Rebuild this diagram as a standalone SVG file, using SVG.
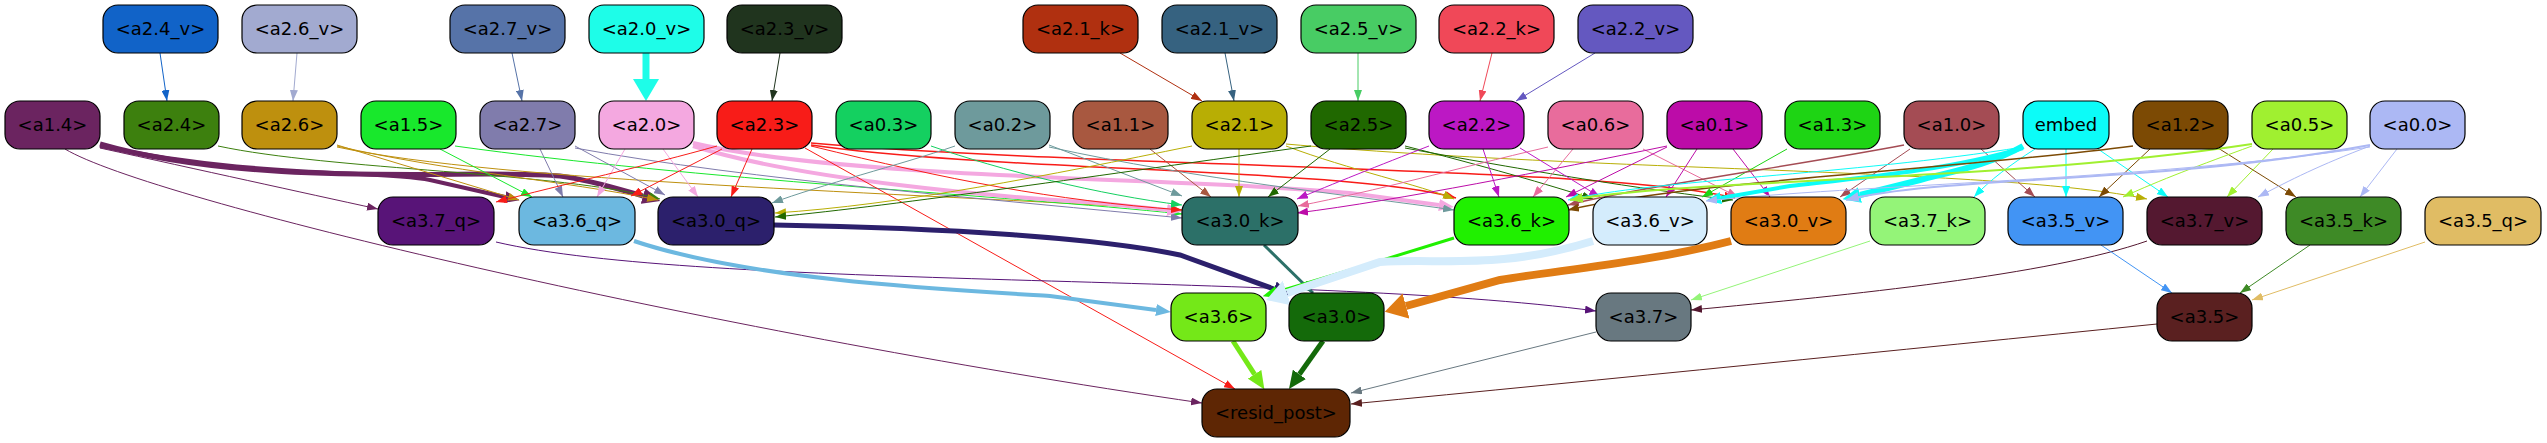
<svg xmlns="http://www.w3.org/2000/svg" width="2547" height="443" viewBox="0 0 2547 443">
<style>
.n rect{stroke:#000;stroke-width:1.2}
.n text{font-family:"DejaVu Sans","Liberation Sans",sans-serif;font-size:18px;text-anchor:middle;fill:#000}
#edges path{fill:none}
.t1{stroke-width:1;marker-end:url(#m1)}
.t2{stroke-width:2;marker-end:url(#m2)}
.t4{stroke-width:4;marker-end:url(#m3)}
.t5{stroke-width:5;marker-end:url(#m5)}
.t8{stroke-width:8;marker-end:url(#m8)}
</style>
<defs>
<marker id="m1" viewBox="0 0 11 8" refX="11" refY="4" markerWidth="11" markerHeight="8" markerUnits="userSpaceOnUse" orient="auto"><path d="M0,0 L11,4 L0,8 Z" fill="context-stroke" stroke="none"/></marker>
<marker id="m2" viewBox="0 0 13 10" refX="13" refY="5" markerWidth="13" markerHeight="10" markerUnits="userSpaceOnUse" orient="auto"><path d="M0,0 L13,5 L0,10 Z" fill="context-stroke" stroke="none"/></marker>
<marker id="m3" viewBox="0 0 15 12" refX="0" refY="6" markerWidth="15" markerHeight="12" markerUnits="userSpaceOnUse" orient="auto"><path d="M0,0 L15,6 L0,12 Z" fill="context-stroke" stroke="none"/></marker>
<marker id="m5" viewBox="0 0 18 16" refX="0" refY="8" markerWidth="18" markerHeight="16" markerUnits="userSpaceOnUse" orient="auto"><path d="M0,0 L18,8 L0,16 Z" fill="context-stroke" stroke="none"/></marker>
<marker id="m8" viewBox="0 0 22 26" refX="0" refY="13" markerWidth="22" markerHeight="26" markerUnits="userSpaceOnUse" orient="auto"><path d="M0,0 L22,13 L0,26 Z" fill="context-stroke" stroke="none"/></marker>
</defs>
<rect width="2547" height="443" fill="#fff"/>
<g id="edges">
<path class="t1" stroke="#1163c8" d="M160,53 L167,101"/>
<path class="t1" stroke="#a2aad0" d="M297,53 L293,101"/>
<path class="t1" stroke="#5673a8" d="M512,53 L522,101"/>
<path class="t8" stroke="#1efde8" style="stroke-width:7" d="M646,53 L646,79"/>
<path class="t1" stroke="#20341e" d="M780,53 L772,101"/>
<path class="t1" stroke="#b03010" d="M1120,53 L1202,101"/>
<path class="t1" stroke="#366280" d="M1225,53 L1234,101"/>
<path class="t1" stroke="#48cc64" d="M1358,53 L1358,101"/>
<path class="t1" stroke="#f04858" d="M1492,53 L1480,101"/>
<path class="t1" stroke="#6458c0" d="M1595,53 L1516,101"/>

<path class="t1" stroke="#6b2460" d="M100,148 C200,170 300,192 378,209"/>
<path class="t4" stroke="#6b2460" d="M100,146 C250,178 380,170 430,180 L505,197"/>
<path class="t5" stroke="#6b2460" d="M100,144 C260,190 480,168 560,176 C590,180 615,188 643,196"/>
<path class="t1" stroke="#6b2460" d="M65,149 C150,200 700,330 1202,403"/>
<path class="t1" stroke="#3d800e" d="M218,146 C330,170 560,172 660,199"/>
<path class="t1" stroke="#be900e" d="M337,145 L519,200"/>
<path class="t1" stroke="#be900e" d="M337,146 C450,172 560,180 658,200"/>
<path class="t1" stroke="#be900e" d="M337,147 C500,182 900,192 1182,210"/>
<path class="t1" stroke="#18e82c" d="M440,149 L532,197"/>
<path class="t1" stroke="#18e82c" d="M455,146 C700,180 1000,195 1182,214"/>
<path class="t1" stroke="#807cac" d="M540,149 L563,197"/>
<path class="t1" stroke="#807cac" d="M575,146 L665,195"/>
<path class="t1" stroke="#807cac" d="M575,148 C750,180 1000,200 1182,218"/>
<path class="t1" stroke="#f4a8e0" d="M625,149 L597,197"/>
<path class="t1" stroke="#f4a8e0" d="M663,149 L698,197"/>
<path class="t4" stroke="#f4a8e0" d="M693,146 C800,180 1000,197 1100,203 L1167,210"/>
<path class="t4" stroke="#f4a8e0" d="M693,143 C850,180 1200,178 1350,193 L1439,205"/>
<path class="t1" stroke="#f81c18" d="M717,146 C650,165 560,185 496,202"/>
<path class="t1" stroke="#f81c18" d="M722,149 L631,196"/>
<path class="t1" stroke="#f81c18" d="M752,149 L731,197"/>
<path class="t1" stroke="#f81c18" d="M805,148 L1235,389"/>
<path class="t1" stroke="#f81c18" d="M811,146 C950,180 1050,200 1182,210"/>
<path class="t1" stroke="#f81c18" style="stroke-width:1.5" d="M811,145 C1000,172 1350,168 1456,198"/>
<path class="t1" stroke="#f81c18" style="stroke-width:1.5" d="M811,143 C1100,168 1600,166 1735,198"/>
<path class="t1" stroke="#14d060" d="M931,146 C1000,170 1100,195 1182,205"/>
<path class="t1" stroke="#6e9a9c" d="M955,146 C900,165 820,185 772,203"/>
<path class="t1" stroke="#6e9a9c" d="M1049,145 L1182,196"/>
<path class="t1" stroke="#6e9a9c" d="M1049,147 C1200,180 1350,195 1454,210"/>
<path class="t1" stroke="#a85840" d="M1150,149 L1211,197"/>
<path class="t1" stroke="#b8ae04" d="M1192,146 C1050,175 900,205 775,213"/>
<path class="t1" stroke="#b8ae04" d="M1239,149 L1239,197"/>
<path class="t1" stroke="#b8ae04" d="M1286,146 C1350,170 1420,185 1454,199"/>
<path class="t1" stroke="#b8ae04" d="M1286,144 C1600,172 2000,168 2147,199"/>
<path class="t1" stroke="#206800" d="M1311,146 C1100,175 900,205 775,217"/>
<path class="t1" stroke="#206800" d="M1330,149 L1268,197"/>
<path class="t1" stroke="#206800" d="M1405,146 C1480,165 1550,185 1593,199"/>
<path class="t1" stroke="#206800" d="M1405,148 C1550,175 1650,190 1733,200"/>
<path class="t1" stroke="#bc18c4" d="M1429,146 C1380,165 1330,185 1297,199"/>
<path class="t1" stroke="#bc18c4" d="M1483,149 L1499,197"/>
<path class="t1" stroke="#bc18c4" d="M1520,148 L1600,197"/>
<path class="t1" stroke="#e86c9c" d="M1548,147 C1450,170 1380,190 1298,206"/>
<path class="t1" stroke="#e86c9c" d="M1573,149 L1533,197"/>
<path class="t1" stroke="#e86c9c" d="M1643,149 L1738,197"/>
<path class="t1" stroke="#bc0ca8" d="M1667,146 C1550,170 1400,200 1297,213"/>
<path class="t1" stroke="#bc0ca8" d="M1667,147 L1566,197"/>
<path class="t1" stroke="#bc0ca8" d="M1697,149 L1666,197"/>
<path class="t1" stroke="#bc0ca8" d="M1733,149 L1770,197"/>
<path class="t1" stroke="#1ed414" d="M1787,149 L1702,197"/>
<path class="t1" stroke="#a44c54" d="M1910,149 L1840,197"/>
<path class="t1" stroke="#a44c54" d="M1981,149 L2035,197"/>
<path class="t1" stroke="#a44c54" style="stroke-width:1.5" d="M1904,145 C1800,165 1650,185 1568,205"/>
<path class="t5" stroke="#0cfcf8" style="stroke-width:6" d="M2023,146 C1990,165 1950,172 1920,180 L1860,195"/>
<path class="t4" stroke="#0cfcf8" d="M2023,148 C1950,170 1860,178 1790,186 L1721,198"/>
<path class="t1" stroke="#0cfcf8" d="M2023,147 C1850,175 1650,180 1568,200"/>
<path class="t1" stroke="#0cfcf8" d="M2035,149 C2010,165 1990,180 1974,197"/>
<path class="t1" stroke="#0cfcf8" d="M2066,149 L2066,197"/>
<path class="t1" stroke="#0cfcf8" d="M2098,149 L2168,197"/>
<path class="t1" stroke="#7c4a04" d="M2150,149 L2099,197"/>
<path class="t1" stroke="#7c4a04" d="M2218,148 L2296,197"/>
<path class="t1" stroke="#7c4a04" style="stroke-width:1.5" d="M2133,146 C1950,170 1700,180 1568,210"/>
<path class="t1" stroke="#a0f030" d="M2273,149 L2227,197"/>
<path class="t1" stroke="#a0f030" d="M2252,146 C2200,165 2160,180 2123,197"/>
<path class="t2" stroke="#a0f030" d="M2252,144 C2000,182 1700,178 1570,200"/>
<path class="t1" stroke="#acb8f4" d="M2397,149 L2360,197"/>
<path class="t1" stroke="#acb8f4" d="M2370,146 C2320,165 2290,180 2258,197"/>
<path class="t2" stroke="#acb8f4" d="M2370,145 C2150,185 1950,175 1846,200"/>
<path class="t1" stroke="#acb8f4" d="M2370,147 C2150,180 1850,185 1706,201"/>

<path class="t1" stroke="#581478" d="M496,242 C700,290 1300,272 1596,311"/>
<path class="t4" stroke="#6cb8e0" d="M634,241 C750,280 950,290 1050,296 L1156,310"/>
<path class="t5" stroke="#2c206c" d="M774,225 C950,228 1100,238 1180,255 L1274,289"/>
<path class="t2" stroke="#2c7068" style="stroke-width:3" d="M1264,245 L1313,293"/>
<path class="t4" stroke="#20f000" style="stroke-width:3" d="M1454,238 C1400,255 1330,276 1277,292"/>
<path class="t8" stroke="#d4ecfc" d="M1593,241 C1500,270 1440,258 1380,262 L1287,293"/>
<path class="t8" stroke="#e07c14" d="M1731,241 C1650,262 1560,270 1500,280 L1406,306"/>
<path class="t1" stroke="#94f478" d="M1870,241 L1691,300"/>
<path class="t1" stroke="#541830" d="M2147,241 C2050,275 1850,295 1691,310"/>
<path class="t1" stroke="#4294f4" d="M2101,245 L2172,293"/>
<path class="t1" stroke="#3e8a26" d="M2310,245 L2240,293"/>
<path class="t1" stroke="#e0bc64" d="M2425,242 L2252,300"/>

<path class="t5" stroke="#74e818" d="M1233,341 L1254.6,374.3"/>
<path class="t5" stroke="#146a0a" d="M1323,341 L1299.4,374.3"/>
<path class="t1" stroke="#687880" d="M1596,332 L1351,393"/>
<path class="t1" stroke="#5a2020" d="M2157,324 C1900,350 1600,380 1351,404"/>
</g>

<g id="a2.4_v" class="n"><rect x="103" y="5" width="115" height="48" rx="15" fill="#1163c8"/><text x="160.5" y="35">&lt;a2.4_v&gt;</text></g>
<g id="a2.6_v" class="n"><rect x="242" y="5" width="115" height="48" rx="15" fill="#a2aad0"/><text x="299.5" y="35">&lt;a2.6_v&gt;</text></g>
<g id="a2.7_v" class="n"><rect x="450" y="5" width="115" height="48" rx="15" fill="#5673a8"/><text x="507.5" y="35">&lt;a2.7_v&gt;</text></g>
<g id="a2.0_v" class="n"><rect x="589" y="5" width="115" height="48" rx="15" fill="#1efde8"/><text x="646.5" y="35">&lt;a2.0_v&gt;</text></g>
<g id="a2.3_v" class="n"><rect x="727" y="5" width="115" height="48" rx="15" fill="#20341e"/><text x="784.5" y="35">&lt;a2.3_v&gt;</text></g>
<g id="a2.1_k" class="n"><rect x="1023" y="5" width="115" height="48" rx="15" fill="#b03010"/><text x="1080.5" y="35">&lt;a2.1_k&gt;</text></g>
<g id="a2.1_v" class="n"><rect x="1162" y="5" width="115" height="48" rx="15" fill="#366280"/><text x="1219.5" y="35">&lt;a2.1_v&gt;</text></g>
<g id="a2.5_v" class="n"><rect x="1301" y="5" width="115" height="48" rx="15" fill="#48cc64"/><text x="1358.5" y="35">&lt;a2.5_v&gt;</text></g>
<g id="a2.2_k" class="n"><rect x="1439" y="5" width="115" height="48" rx="15" fill="#f04858"/><text x="1496.5" y="35">&lt;a2.2_k&gt;</text></g>
<g id="a2.2_v" class="n"><rect x="1578" y="5" width="115" height="48" rx="15" fill="#6458c0"/><text x="1635.5" y="35">&lt;a2.2_v&gt;</text></g>

<g id="a1.4" class="n"><rect x="5" y="101" width="95" height="48" rx="15" fill="#6b2460"/><text x="52.5" y="131">&lt;a1.4&gt;</text></g>
<g id="a2.4" class="n"><rect x="124" y="101" width="95" height="48" rx="15" fill="#3d800e"/><text x="171.5" y="131">&lt;a2.4&gt;</text></g>
<g id="a2.6" class="n"><rect x="242" y="101" width="95" height="48" rx="15" fill="#be900e"/><text x="289.5" y="131">&lt;a2.6&gt;</text></g>
<g id="a1.5" class="n"><rect x="361" y="101" width="95" height="48" rx="15" fill="#18e82c"/><text x="408.5" y="131">&lt;a1.5&gt;</text></g>
<g id="a2.7" class="n"><rect x="480" y="101" width="95" height="48" rx="15" fill="#807cac"/><text x="527.5" y="131">&lt;a2.7&gt;</text></g>
<g id="a2.0" class="n"><rect x="599" y="101" width="95" height="48" rx="15" fill="#f4a8e0"/><text x="646.5" y="131">&lt;a2.0&gt;</text></g>
<g id="a2.3" class="n"><rect x="717" y="101" width="95" height="48" rx="15" fill="#f81c18"/><text x="764.5" y="131">&lt;a2.3&gt;</text></g>
<g id="a0.3" class="n"><rect x="836" y="101" width="95" height="48" rx="15" fill="#14d060"/><text x="883.5" y="131">&lt;a0.3&gt;</text></g>
<g id="a0.2" class="n"><rect x="955" y="101" width="95" height="48" rx="15" fill="#6e9a9c"/><text x="1002.5" y="131">&lt;a0.2&gt;</text></g>
<g id="a1.1" class="n"><rect x="1073" y="101" width="95" height="48" rx="15" fill="#a85840"/><text x="1120.5" y="131">&lt;a1.1&gt;</text></g>
<g id="a2.1" class="n"><rect x="1192" y="101" width="95" height="48" rx="15" fill="#b8ae04"/><text x="1239.5" y="131">&lt;a2.1&gt;</text></g>
<g id="a2.5" class="n"><rect x="1311" y="101" width="95" height="48" rx="15" fill="#206800"/><text x="1358.5" y="131">&lt;a2.5&gt;</text></g>
<g id="a2.2" class="n"><rect x="1429" y="101" width="95" height="48" rx="15" fill="#bc18c4"/><text x="1476.5" y="131">&lt;a2.2&gt;</text></g>
<g id="a0.6" class="n"><rect x="1548" y="101" width="95" height="48" rx="15" fill="#e86c9c"/><text x="1595.5" y="131">&lt;a0.6&gt;</text></g>
<g id="a0.1" class="n"><rect x="1667" y="101" width="95" height="48" rx="15" fill="#bc0ca8"/><text x="1714.5" y="131">&lt;a0.1&gt;</text></g>
<g id="a1.3" class="n"><rect x="1785" y="101" width="95" height="48" rx="15" fill="#1ed414"/><text x="1832.5" y="131">&lt;a1.3&gt;</text></g>
<g id="a1.0" class="n"><rect x="1904" y="101" width="95" height="48" rx="15" fill="#a44c54"/><text x="1951.5" y="131">&lt;a1.0&gt;</text></g>
<g id="embed" class="n"><rect x="2023" y="101" width="86" height="48" rx="15" fill="#0cfcf8"/><text x="2066" y="131">embed</text></g>
<g id="a1.2" class="n"><rect x="2133" y="101" width="95" height="48" rx="15" fill="#7c4a04"/><text x="2180.5" y="131">&lt;a1.2&gt;</text></g>
<g id="a0.5" class="n"><rect x="2252" y="101" width="95" height="48" rx="15" fill="#a0f030"/><text x="2299.5" y="131">&lt;a0.5&gt;</text></g>
<g id="a0.0" class="n"><rect x="2370" y="101" width="95" height="48" rx="15" fill="#acb8f4"/><text x="2417.5" y="131">&lt;a0.0&gt;</text></g>

<g id="a3.7_q" class="n"><rect x="378" y="197" width="116" height="48" rx="15" fill="#581478"/><text x="436" y="227">&lt;a3.7_q&gt;</text></g>
<g id="a3.6_q" class="n"><rect x="519" y="197" width="116" height="48" rx="15" fill="#6cb8e0"/><text x="577" y="227">&lt;a3.6_q&gt;</text></g>
<g id="a3.0_q" class="n"><rect x="658" y="197" width="116" height="48" rx="15" fill="#2c206c"/><text x="716" y="227">&lt;a3.0_q&gt;</text></g>
<g id="a3.0_k" class="n"><rect x="1182" y="197" width="116" height="48" rx="15" fill="#2c7068"/><text x="1240" y="227">&lt;a3.0_k&gt;</text></g>
<g id="a3.6_k" class="n"><rect x="1454" y="197" width="115" height="48" rx="15" fill="#20f000"/><text x="1511.5" y="227">&lt;a3.6_k&gt;</text></g>
<g id="a3.6_v" class="n"><rect x="1593" y="197" width="114" height="48" rx="15" fill="#d4ecfc"/><text x="1650" y="227">&lt;a3.6_v&gt;</text></g>
<g id="a3.0_v" class="n"><rect x="1731" y="197" width="115" height="48" rx="15" fill="#e07c14"/><text x="1788.5" y="227">&lt;a3.0_v&gt;</text></g>
<g id="a3.7_k" class="n"><rect x="1870" y="197" width="115" height="48" rx="15" fill="#94f478"/><text x="1927.5" y="227">&lt;a3.7_k&gt;</text></g>
<g id="a3.5_v" class="n"><rect x="2008" y="197" width="115" height="48" rx="15" fill="#4294f4"/><text x="2065.5" y="227">&lt;a3.5_v&gt;</text></g>
<g id="a3.7_v" class="n"><rect x="2147" y="197" width="115" height="48" rx="15" fill="#541830"/><text x="2204.5" y="227">&lt;a3.7_v&gt;</text></g>
<g id="a3.5_k" class="n"><rect x="2286" y="197" width="115" height="48" rx="15" fill="#3e8a26"/><text x="2343.5" y="227">&lt;a3.5_k&gt;</text></g>
<g id="a3.5_q" class="n"><rect x="2425" y="197" width="116" height="48" rx="15" fill="#e0bc64"/><text x="2483" y="227">&lt;a3.5_q&gt;</text></g>

<g id="a3.6" class="n"><rect x="1171" y="293" width="95" height="48" rx="15" fill="#74e818"/><text x="1218.5" y="323">&lt;a3.6&gt;</text></g>
<g id="a3.0" class="n"><rect x="1289" y="293" width="95" height="48" rx="15" fill="#146a0a"/><text x="1336.5" y="323">&lt;a3.0&gt;</text></g>
<g id="a3.7" class="n"><rect x="1596" y="293" width="95" height="48" rx="15" fill="#687880"/><text x="1643.5" y="323">&lt;a3.7&gt;</text></g>
<g id="a3.5" class="n"><rect x="2157" y="293" width="95" height="48" rx="15" fill="#5a2020"/><text x="2204.5" y="323">&lt;a3.5&gt;</text></g>

<g id="resid_post" class="n"><rect x="1202" y="389" width="148" height="48" rx="15" fill="#5e2604"/><text x="1276" y="419">&lt;resid_post&gt;</text></g>
</svg>
